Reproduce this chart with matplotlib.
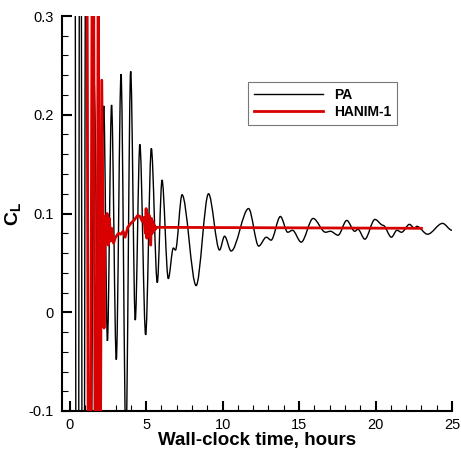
import numpy as np
import matplotlib
matplotlib.use("Agg")
import matplotlib.pyplot as plt
from matplotlib.path import Path
from matplotlib.patches import PathPatch
from matplotlib.lines import Line2D

plt.rcParams['font.family'] = ['Liberation Sans', 'DejaVu Sans']
plt.rcParams['mathtext.fontset'] = 'custom'
plt.rcParams['mathtext.rm'] = 'Liberation Sans'
plt.rcParams['mathtext.bf'] = 'Liberation Sans:bold'

# PA (black) series: extrema (hours, C_L)
pa_t = [0.28, 0.50, 0.70, 0.88, 1.08, 1.30, 1.60, 1.93, 2.23, 2.47, 2.74, 3.05,
        3.36, 3.68, 3.99, 4.29, 4.59, 4.97, 5.34, 5.73, 6.04, 6.45, 6.78, 6.92,
        7.35, 8.27, 9.08, 9.80, 10.13, 10.56, 11.70, 12.36, 12.86, 13.17, 13.78,
        14.26, 14.57, 15.14, 15.92, 16.73, 17.05, 17.55, 18.12, 18.64, 18.85,
        19.30, 19.96, 20.50, 21.04, 21.40, 21.70, 22.22, 22.55, 22.70, 23.40,
        24.38, 25.00]
pa_cl = [1.00, -0.90, 0.80, -0.70, 0.60, -0.45, 0.232, -0.15, 0.209, -0.029,
         0.210, -0.048, 0.241, -0.13, 0.244, -0.008, 0.170, -0.023, 0.166, 0.030,
         0.134, 0.034, 0.065, 0.063, 0.119, 0.027, 0.120, 0.063, 0.077, 0.062,
         0.105, 0.067, 0.076, 0.073, 0.097, 0.081, 0.083, 0.071, 0.095, 0.081,
         0.082, 0.078, 0.093, 0.082, 0.084, 0.074, 0.094, 0.088, 0.076, 0.083,
         0.081, 0.089, 0.085, 0.087, 0.079, 0.090, 0.083]

# HANIM-1 (red) series
ha_t = [1.10, 1.28, 1.52, 1.73, 1.87, 1.98, 2.10, 2.25, 2.32, 2.38, 2.45, 2.52,
        2.60, 2.68, 2.75, 2.87, 3.00, 3.20, 3.35, 3.50, 3.63, 3.80, 4.00, 4.20,
        4.45, 4.60, 4.75, 4.85, 4.95, 5.00, 5.05, 5.10, 5.15, 5.20, 5.25, 5.30,
        5.35, 5.40, 5.45, 5.50, 5.55, 5.60, 5.70, 23.00]
ha_cl = [0.60, -0.60, 0.60, -0.50, 0.40, -0.30, 0.235, -0.016, 0.097, 0.070,
         0.100, 0.068, 0.095, 0.072, 0.085, 0.070, 0.076, 0.080, 0.079, 0.082,
         0.076, 0.086, 0.090, 0.093, 0.098, 0.097, 0.092, 0.096, 0.080, 0.105,
         0.075, 0.100, 0.078, 0.098, 0.080, 0.068, 0.095, 0.080, 0.092, 0.082,
         0.088, 0.084, 0.086, 0.085]

x_ticks = [0, 5, 10, 15, 20, 25]
y_ticks = [-0.1, 0.0, 0.1, 0.2, 0.3]
y_ticklabels = ['-0.1', '0', '0.1', '0.2', '0.3']

fig = plt.figure(figsize=(4.61, 4.57), dpi=100)
ax = fig.add_axes([62/461, 1-411/457, 390/461, 395/457])

# smooth black curve: cubic Bezier segments through the read extrema
verts = [(pa_t[0], pa_cl[0])]
codes = [Path.MOVETO]
for (t0, v0), (t1, v1) in zip(zip(pa_t[:-1], pa_cl[:-1]), zip(pa_t[1:], pa_cl[1:])):
    dt = t1 - t0
    verts += [(t0 + dt/3, v0), (t1 - dt/3, v1), (t1, v1)]
    codes += [Path.CURVE4] * 3
ax.add_patch(PathPatch(Path(verts, codes), fill=False, edgecolor='black',
                       lw=1.0, zorder=2))

ax.plot(ha_t, ha_cl, color='#d80000', lw=2.0, zorder=3)

ax.set_xlim(-0.5, 25)
ax.set_ylim(-0.1, 0.3)
ax.set_xticks(x_ticks)
ax.set_xticks(np.arange(0, 26, 1), minor=True)
ax.set_yticks(y_ticks)
ax.set_yticklabels(y_ticklabels)
ax.set_yticks(np.arange(-0.1, 0.301, 0.02), minor=True)
ax.tick_params(which='major', direction='in', length=7, width=1.5, labelsize=10.5)
ax.tick_params(which='minor', direction='in', length=4, width=0.8)
ax.tick_params(axis='x', pad=5)
ax.tick_params(axis='y', pad=6)
for s in ['top', 'right']:
    ax.spines[s].set_visible(False)
for s in ['left', 'bottom']:
    ax.spines[s].set_linewidth(1.5)

ax.set_xlabel('Wall-clock time, hours', fontsize=13.5, fontweight='bold', labelpad=0)
ax.set_ylabel(r'$\mathbf{C_L}$', fontsize=14, labelpad=4)

handles = [Line2D([], [], color='black', lw=1.0),
           Line2D([], [], color='#d80000', lw=2.0)]
leg = ax.legend(handles, ['PA', 'HANIM-1'], loc='upper left',
                bbox_to_anchor=((248-62)/390, (411-82)/395), borderaxespad=0,
                fancybox=False, frameon=True, handlelength=5.0,
                prop={'weight': 'bold', 'size': 10}, labelspacing=0.25,
                borderpad=0.4, handletextpad=0.8)
leg.get_frame().set_edgecolor('#555555')
leg.get_frame().set_linewidth(0.8)

fig.savefig('out.png', dpi=100)
